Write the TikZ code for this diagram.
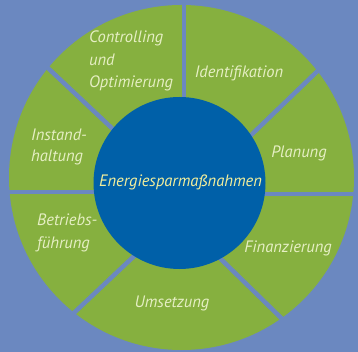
\documentclass[tikz,border=0pt]{standalone}
\usepackage{fontspec}
\setmainfont{PT Sans}
\definecolor{bgblue}{HTML}{6B88C0}
\definecolor{ringgreen}{HTML}{86B03F}
\definecolor{coreblue}{HTML}{0060A8}
\definecolor{lbltext}{HTML}{E6EFC4}
\definecolor{coretext}{HTML}{F2EE9C}
\tikzset{
	gap/.style={draw=bgblue, line width=4.5pt},
	lbl/.style={text=lbltext, inner sep=0pt, font=\fontsize{16.5}{22.5}\selectfont\itshape},
}

\begin{document}
\begin{tikzpicture}[x=1pt,y=-1pt]
	\fill[bgblue] (0,0) rectangle (358,352);
	\useasboundingbox (0,0) rectangle (358,352);
	% ring
	\fill[ringgreen] (181.5,177.5) circle (172.5);
	% gap ends
	\coordinate (t1) at (184,0);
	\coordinate (t2) at (184,150);
	\coordinate (r1) at (200,194);
	\coordinate (r2) at (358,194);
	\coordinate (l1) at (0,192);
	\coordinate (l2) at (160,192);
	\coordinate (ul1) at (16,38);
	\coordinate (ul2) at (150,164);
	\coordinate (ur1) at (356,34);
	\coordinate (ur2) at (219,166);
	\coordinate (bl1) at (41,344);
	\coordinate (bl2) at (166,226);
	\coordinate (br1) at (318,354);
	\coordinate (br2) at (186,225);
	\draw[gap] (t1) -- (t2);
	\draw[gap] (r1) -- (r2);
	\draw[gap] (l1) -- (l2);
	\draw[gap] (ul1) -- (ul2);
	\draw[gap] (ur1) -- (ur2);
	\draw[gap] (bl1) -- (bl2);
	\draw[gap] (br1) -- (br2);
	% core
	\node[circle, fill=coreblue, minimum size=172pt, inner sep=0pt] (core) at (179.5,183){};
	\node[text=coretext, font=\fontsize{16.5}{20}\selectfont\itshape] (ctitle) at (180.5,182){Energiesparmaßnahmen};
	% labels
	\node[lbl, anchor=west, align=left] (ctrl) at (89,61){Controlling\\und\\Optimierung};
	\node[lbl] (ident) at (239,73){Identifikation};
	\node[lbl] (plan) at (299,153){Planung};
	\node[lbl] (fin) at (288,248){Finanzierung};
	\node[lbl] (ums) at (172,303){Umsetzung};
	\node[lbl, anchor=west, align=left, font=\fontsize{16.5}{23}\selectfont\itshape] (betr) at (37,233){Betriebs-\\führung};
	\node[lbl, anchor=west, align=left, font=\fontsize{16.5}{20.5}\selectfont\itshape] (inst) at (31,147){Instand-\\haltung};
\end{tikzpicture}
\end{document}
